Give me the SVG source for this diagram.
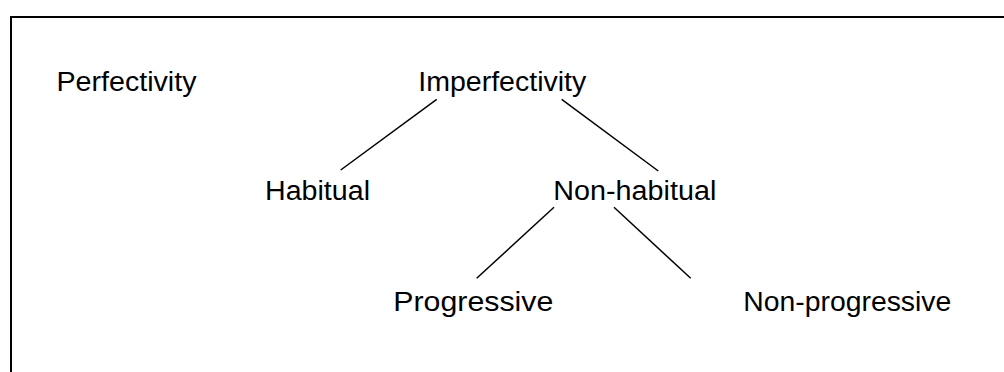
<svg xmlns="http://www.w3.org/2000/svg" width="1004" height="372" viewBox="0 0 1004 372">
  <style>
    .lbl { font-family: "Liberation Sans", Arial, sans-serif; font-size: 27px; fill: #000; }
    .edge { stroke: #000; stroke-width: 1.5; fill: none; }
    .frame { stroke: #000; stroke-width: 2; fill: none; }
  </style>
  <rect width="1004" height="372" fill="#fff"/>
  <path class="frame" d="M11,380 V17 H1010"/>
  <g id="connectors">
    <line class="edge" x1="436.7" y1="99.3" x2="340.7" y2="170"/>
    <line class="edge" x1="561.7" y1="99.3" x2="658.3" y2="171"/>
    <line class="edge" x1="554" y1="207.3" x2="476.7" y2="278.3"/>
    <line class="edge" x1="614" y1="207.3" x2="690.7" y2="278.3"/>
  </g>
  <g id="perfectivity">
    <text class="lbl" x="56.5" y="90.7" textLength="140" lengthAdjust="spacingAndGlyphs">Perfectivity</text>
  </g>
  <g id="imperfectivity">
    <text class="lbl" x="418.3" y="90.7" textLength="168" lengthAdjust="spacingAndGlyphs">Imperfectivity</text>
  </g>
  <g id="habitual">
    <text class="lbl" x="265" y="200" textLength="105" lengthAdjust="spacingAndGlyphs">Habitual</text>
  </g>
  <g id="non-habitual">
    <text class="lbl" x="553.3" y="200" textLength="163" lengthAdjust="spacingAndGlyphs">Non-habitual</text>
  </g>
  <g id="progressive">
    <text class="lbl" x="393.3" y="310.7" textLength="160" lengthAdjust="spacingAndGlyphs">Progressive</text>
  </g>
  <g id="non-progressive">
    <text class="lbl" x="743.3" y="310.7" textLength="208" lengthAdjust="spacingAndGlyphs">Non-progressive</text>
  </g>
</svg>
